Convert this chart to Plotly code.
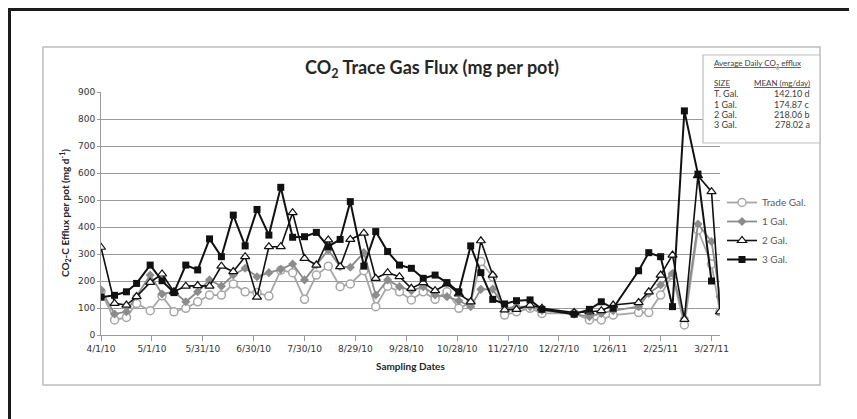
import plotly.graph_objects as go

# ---------------- data ----------------
sampling_dates = [
    "2010-04-01", "2010-04-09", "2010-04-16", "2010-04-22", "2010-04-30",
    "2010-05-07", "2010-05-14", "2010-05-21", "2010-05-28", "2010-06-04",
    "2010-06-11", "2010-06-18", "2010-06-25", "2010-07-02", "2010-07-09",
    "2010-07-16", "2010-07-23", "2010-07-30", "2010-08-06", "2010-08-13",
    "2010-08-20", "2010-08-26", "2010-09-03", "2010-09-10", "2010-09-17",
    "2010-09-24", "2010-10-01", "2010-10-08", "2010-10-15", "2010-10-22",
    "2010-10-29", "2010-11-05", "2010-11-11", "2010-11-18", "2010-11-25",
    "2010-12-02", "2010-12-10", "2010-12-17", "2011-01-05", "2011-01-14",
    "2011-01-21", "2011-01-28", "2011-02-12", "2011-02-18", "2011-02-25",
    "2011-03-04", "2011-03-11", "2011-03-19", "2011-03-27", "2011-04-01",
]

trade_gal = [160, 56, 65, 117, 90, 145, 86, 99, 123, 148,
             148, 189, 160, 157, 144, 240, 231, 132, 222, 255,
             179, 189, 238, 105, 181, 160, 130, 160, 132, 160,
             99, 120, 272, 215, 74, 86, 99, 80, 80, 56,
             56, 74, 83, 83, 148, 222, 37, 389, 263, 86]

gal_1 = [167, 78, 86, 144, 222, 152, 160, 123, 160, 204,
         181, 222, 247, 216, 231, 243, 263, 204, 259, 315,
         253, 251, 305, 148, 204, 179, 164, 179, 148, 142,
         127, 105, 169, 170, 99, 105, 105, 91, 77, 68,
         80, 90, 105, 154, 185, 228, 62, 411, 346, 142]

gal_2 = [325, 117, 111, 142, 195, 226, 160, 181, 183, 181,
         255, 235, 290, 140, 327, 327, 453, 284, 259, 352,
         253, 354, 377, 210, 231, 216, 173, 194, 164, 189,
         152, 123, 349, 222, 93, 95, 111, 99, 83, 86,
         90, 111, 120, 160, 222, 296, 58, 590, 531, 86]

gal_3 = [140, 147, 160, 191, 259, 201, 157, 259, 241, 356,
         290, 444, 330, 465, 370, 547, 362, 364, 380, 327,
         354, 494, 255, 383, 309, 259, 247, 210, 222, 194,
         160, 330, 231, 132, 115, 127, 130, 95, 77, 95,
         123, 99, 238, 305, 290, 105, 830, 596, 200, None]

tick_dates = ["2010-04-01", "2010-05-01", "2010-05-31", "2010-06-30", "2010-07-30",
              "2010-08-29", "2010-09-28", "2010-10-28", "2010-11-27", "2010-12-27",
              "2011-01-26", "2011-02-25", "2011-03-27"]
tick_labels = ["4/1/10", "5/1/10", "5/31/10", "6/30/10", "7/30/10", "8/29/10",
               "9/28/10", "10/28/10", "11/27/10", "12/27/10", "1/26/11",
               "2/25/11", "3/27/11"]

table_sizes = ["T. Gal.", "1 Gal.", "2 Gal.", "3 Gal."]
table_means = ["142.10 d", "174.87 c", "218.06 b", "278.02 a"]

# ---------------- layout helpers ----------------
# The page body has an 8px margin, so the figure starts at (8, 8) of the window.
OFF = 8
W, H = 857 - OFF, 419 - OFF
# plot-area box in window pixel coordinates
SL, SR, ST, SB = 101, 720, 92, 335
L, R, T, B = SL - OFF, SR - OFF, ST - OFF, SB - OFF


def px(x):
    """window x pixel -> paper x"""
    return (x - SL) / (SR - SL)


def py(y):
    """window y pixel -> paper y"""
    return (SB - y) / (SB - ST)


LIGHT = "#a6a6a6"
MID = "#8c8c8c"
BLACK = "#111111"

fig = go.Figure()
fig.add_trace(go.Scatter(
    x=sampling_dates, y=trade_gal, name="Trade Gal.", mode="lines+markers",
    line=dict(color=LIGHT, width=1.8),
    marker=dict(symbol="circle", size=8, color="white", line=dict(color=LIGHT, width=1.5)),
))
fig.add_trace(go.Scatter(
    x=sampling_dates, y=gal_1, name="1 Gal.", mode="lines+markers",
    line=dict(color=MID, width=1.8),
    marker=dict(symbol="diamond", size=7, color=MID, line=dict(width=0)),
))
fig.add_trace(go.Scatter(
    x=sampling_dates, y=gal_2, name="2 Gal.", mode="lines+markers",
    line=dict(color=BLACK, width=1.6),
    marker=dict(symbol="triangle-up", size=8, color="white", line=dict(color=BLACK, width=1.2)),
))
fig.add_trace(go.Scatter(
    x=sampling_dates, y=gal_3, name="3 Gal.", mode="lines+markers",
    line=dict(color=BLACK, width=2),
    marker=dict(symbol="square", size=7, color=BLACK, line=dict(width=0)),
))

tick_font = dict(family="DejaVu Sans", size=9, color="#333333")

fig.update_layout(
    width=W, height=H,
    margin=dict(l=L, r=W - R, t=T, b=H - B, pad=0),
    paper_bgcolor="white", plot_bgcolor="white",
    showlegend=True,
    legend=dict(
        x=px(722), y=py(188), xanchor="left", yanchor="top",
        font=dict(family="Lato", size=10, color="#595959"),
        bgcolor="rgba(0,0,0,0)", itemwidth=30, tracegroupgap=0,
    ),
    title=dict(
        text="<b>CO<sub>2</sub> Trace Gas Flux (mg per pot)</b>",
        x=(432 - OFF) / W, xref="container", xanchor="center",
        y=1 - (68 - OFF) / H, yref="container", yanchor="middle",
        font=dict(family="Lato", size=18, color="#262626"),
    ),
    xaxis=dict(
        type="date", range=["2010-04-01", "2011-04-01"],
        tickvals=tick_dates, ticktext=tick_labels,
        showgrid=False, showline=True, linecolor="#9a9a9a", linewidth=1,
        ticks="outside", ticklen=5, tickcolor="#9a9a9a",
        tickfont=tick_font, zeroline=False,
    ),
    yaxis=dict(
        range=[0, 900], tickvals=list(range(0, 1000, 100)),
        showgrid=True, gridcolor="#9a9a9a", gridwidth=1.2,
        showline=True, linecolor="#9a9a9a", linewidth=1,
        ticks="outside", ticklen=3, tickcolor="#9a9a9a",
        tickfont=tick_font, zeroline=False,
    ),
)

shapes = [
    # outer black frame (left / top edges touch the figure edge)
    dict(type="rect", xref="paper", yref="paper",
         x0=px(OFF + 1.5), x1=px(900), y0=py(470), y1=py(OFF + 1.5),
         line=dict(color="#1c1c1c", width=3), fillcolor="rgba(0,0,0,0)", layer="above"),
    # chart area border
    dict(type="rect", xref="paper", yref="paper",
         x0=px(43), x1=px(820), y0=py(385), y1=py(47),
         line=dict(color="#bdbdbd", width=1.5), fillcolor="rgba(0,0,0,0)", layer="below"),
    # inset table box
    dict(type="rect", xref="paper", yref="paper",
         x0=px(703), x1=px(820), y0=py(143), y1=py(55),
         line=dict(color="#bdbdbd", width=1.2), fillcolor="white", layer="above"),
]
fig.update_layout(shapes=shapes)

hdr_font = dict(family="Lato", size=8, color="#404040")
row_font = dict(family="Lato", size=9, color="#404040")
ann = [
    dict(text="<b>CO<sub>2</sub>-C Efflux per pot (mg d<sup>-1</sup>)</b>",
         x=px(65), y=py(213), xref="paper", yref="paper", textangle=-90,
         showarrow=False, font=dict(family="Lato", size=10, color="#262626"),
         xanchor="center", yanchor="middle"),
    dict(text="<b>Sampling Dates</b>", x=px(410), y=py(366), xref="paper", yref="paper",
         showarrow=False, font=dict(family="Lato", size=10, color="#262626"),
         xanchor="center", yanchor="middle"),
    dict(text="<u>Average Daily CO<sub>2</sub> efflux</u>", x=px(712), y=py(63),
         xref="paper", yref="paper", showarrow=False, font=hdr_font,
         xanchor="left", yanchor="middle"),
    dict(text="<u>SIZE</u>", x=px(712), y=py(83), xref="paper", yref="paper",
         showarrow=False, font=hdr_font, xanchor="left", yanchor="middle"),
    dict(text="<u>MEAN (mg/day)</u>", x=px(812), y=py(83), xref="paper", yref="paper",
         showarrow=False, font=hdr_font, xanchor="right", yanchor="middle"),
]
for i, (s, m) in enumerate(zip(table_sizes, table_means)):
    yy = 94 + i * 10.3
    ann.append(dict(text=s, x=px(712), y=py(yy), xref="paper", yref="paper",
                    showarrow=False, font=row_font, xanchor="left", yanchor="middle"))
    ann.append(dict(text=m, x=px(812), y=py(yy), xref="paper", yref="paper",
                    showarrow=False, font=row_font, xanchor="right", yanchor="middle"))
fig.update_layout(annotations=ann)

fig.write_html("out.html")
